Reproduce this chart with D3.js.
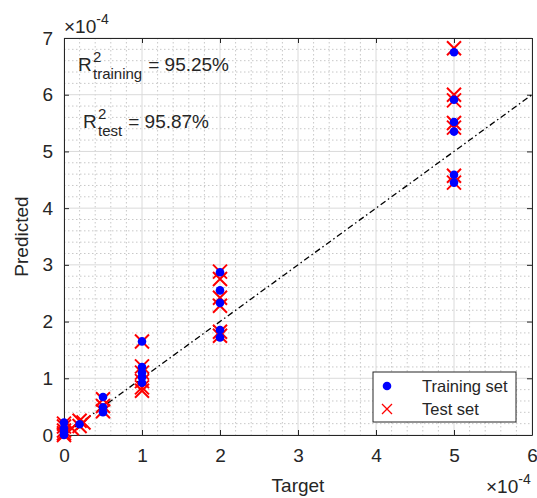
<!DOCTYPE html>
<html>
<head>
<meta charset="utf-8">
<script src="https://cdn.jsdelivr.net/npm/d3@7"></script>
<style>
  html, body { margin: 0; padding: 0; background: #fff; }
  svg { display: block; font-family: "Liberation Sans", Arial, sans-serif; }
</style>
</head>
<body>
<svg id="chart" width="537" height="498"></svg>
<script>
// values are in units of 1e-4
const xTicks = [0, 1, 2, 3, 4, 5, 6];
const yTicks = [0, 1, 2, 3, 4, 5, 6, 7];

const trainX = [0, 0, 0, 0, 0.2, 0.5, 0.5, 0.5, 1, 1, 1, 1, 1, 2, 2, 2, 2, 2, 5, 5, 5, 5, 5, 5];
const trainY = [0.22, 0.12, 0.05, 0.0, 0.19, 0.67, 0.49, 0.40, 1.65, 1.20, 1.10, 1.02, 0.92, 2.87, 2.55, 2.33, 1.85, 1.72, 6.75, 5.91, 5.52, 5.35, 4.59, 4.45];

const testX = [0, 0, 0, 0, 0, 0.1, 0.2, 0.2, 0.25, 0.5, 0.5, 0.5, 1, 1, 1, 1, 1, 1, 2, 2, 2, 2, 2, 2, 5, 5, 5, 5, 5, 5, 5];
const testY = [0.20, 0.15, 0.08, 0.03, 0.0, 0.12, 0.25, 0.16, 0.22, 0.63, 0.51, 0.42, 1.65, 1.21, 1.10, 0.95, 0.84, 0.78, 2.88, 2.75, 2.42, 2.28, 1.82, 1.75, 6.82, 6.00, 5.90, 5.50, 5.42, 4.57, 4.45];

const r2Train = '95.25%';
const r2Test = '95.87%';

const svg = d3.select('#chart');
const m = { left: 64, right: 532, top: 38, bottom: 435 };
const x = d3.scaleLinear().domain([0, 6]).range([m.left, m.right]);
const y = d3.scaleLinear().domain([0, 7]).range([m.bottom, m.top]);
const txt = '#262626';
const fs = '19px';

// grid
const minorX = d3.range(0, 6.001, 0.2).filter((v) => Math.abs(v - Math.round(v)) > 1e-6);
const minorY = d3.range(0, 7.001, 0.2).filter((v) => Math.abs(v - Math.round(v)) > 1e-6);
const grid = svg.append('g');
grid.selectAll('line.mx').data(minorX).enter().append('line')
	.attr('x1', (d) => x(d)).attr('x2', (d) => x(d)).attr('y1', m.top).attr('y2', m.bottom)
	.style('stroke', '#c8c8c8').style('stroke-dasharray', '1.5,2.5');
grid.selectAll('line.my').data(minorY).enter().append('line')
	.attr('y1', (d) => y(d)).attr('y2', (d) => y(d)).attr('x1', m.left).attr('x2', m.right)
	.style('stroke', '#c8c8c8').style('stroke-dasharray', '1.5,2.5');
grid.selectAll('line.gx').data(xTicks).enter().append('line')
	.attr('x1', (d) => x(d)).attr('x2', (d) => x(d)).attr('y1', m.top).attr('y2', m.bottom)
	.style('stroke', '#dadada');
grid.selectAll('line.gy').data(yTicks).enter().append('line')
	.attr('y1', (d) => y(d)).attr('y2', (d) => y(d)).attr('x1', m.left).attr('x2', m.right)
	.style('stroke', '#dadada');

// axes (ticks inward, box on)
const fmt = d3.format('d');
const axB = svg.append('g').attr('transform', `translate(0,${m.bottom})`)
	.call(d3.axisBottom(x).tickValues(xTicks).tickFormat(fmt).tickSizeInner(-5).tickSizeOuter(0).tickPadding(14));
const axT = svg.append('g').attr('transform', `translate(0,${m.top})`)
	.call(d3.axisTop(x).tickValues(xTicks).tickFormat('').tickSizeInner(-5).tickSizeOuter(0));
const axL = svg.append('g').attr('transform', `translate(${m.left},0)`)
	.call(d3.axisLeft(y).tickValues(yTicks).tickFormat(fmt).tickSizeInner(-5).tickSizeOuter(0).tickPadding(11));
const axR = svg.append('g').attr('transform', `translate(${m.right},0)`)
	.call(d3.axisRight(y).tickValues(yTicks).tickFormat('').tickSizeInner(-5).tickSizeOuter(0));
[axB, axT, axL, axR].forEach((a) => {
	a.select('.domain').style('stroke', txt);
	a.selectAll('.tick line').style('stroke', txt);
	a.selectAll('text').style('font-size', fs).style('fill', txt).style('font-family', '"Liberation Sans", Arial, sans-serif');
});

// 1:1 reference line
svg.append('line')
	.attr('x1', x(0)).attr('y1', y(0)).attr('x2', x(6)).attr('y2', y(6))
	.style('stroke', '#000').style('stroke-width', 1.3).style('stroke-dasharray', '6,3,1.5,3');

// test set (red crosses)
const cs = 7;
const testG = svg.append('g');
testX.forEach((tx, i) => {
	const cx = x(tx), cy = y(testY[i]);
	testG.append('path')
		.attr('d', `M${cx - cs},${cy - cs}L${cx + cs},${cy + cs}M${cx - cs},${cy + cs}L${cx + cs},${cy - cs}`)
		.style('stroke', '#ff0000').style('stroke-width', 2).style('fill', 'none');
});

// training set (blue dots)
svg.append('g').selectAll('circle').data(trainX).enter().append('circle')
	.attr('cx', (d) => x(d)).attr('cy', (d, i) => y(trainY[i])).attr('r', 4.3)
	.style('fill', '#0000ff');

// exponent labels
function exponent(xp, yp) {
	const t = svg.append('text').attr('x', xp).attr('y', yp).style('fill', txt).style('font-size', fs);
	t.append('tspan').text('\u00d710');
	t.append('tspan').attr('dy', -9).style('font-size', '14px').text('-4');
}
exponent(64, 33);
exponent(486, 493);

// R^2 annotations
function r2(xp, yp, sub, val) {
	svg.append('text').attr('x', xp).attr('y', yp).style('fill', txt).style('font-size', fs).text('R');
	const rw = 14;
	svg.append('text').attr('x', xp + rw + 1).attr('y', yp - 9).style('fill', txt).style('font-size', '15px').text('2');
	const s = svg.append('text').attr('x', xp + rw + 1).attr('y', yp + 8).style('fill', txt).style('font-size', '15px').text(sub);
	const sw = s.node().getComputedTextLength();
	svg.append('text').attr('x', xp + rw + 1 + sw + 6).attr('y', yp).style('fill', txt).style('font-size', fs).text('= ' + val);
}
r2(78, 71, 'training', r2Train);
r2(83, 128, 'test', r2Test);

// axis titles
svg.append('text').attr('x', (m.left + m.right) / 2).attr('y', 492).attr('text-anchor', 'middle')
	.style('fill', txt).style('font-size', fs).text('Target');
svg.append('text').attr('transform', `translate(28,${(m.top + m.bottom) / 2}) rotate(-90)`).attr('text-anchor', 'middle')
	.style('fill', txt).style('font-size', fs).text('Predicted');

// legend
const lg = svg.append('g');
lg.append('rect').attr('x', 373).attr('y', 372).attr('width', 143).attr('height', 50)
	.style('fill', '#fff').style('stroke', txt);
lg.append('circle').attr('cx', 387).attr('cy', 386).attr('r', 4.3).style('fill', '#0000ff');
const ls = 5;
lg.append('path').attr('d', `M${387 - ls},${409 - ls}L${387 + ls},${409 + ls}M${387 - ls},${409 + ls}L${387 + ls},${409 - ls}`)
	.style('stroke', '#ff0000').style('stroke-width', 1.3);
lg.append('text').attr('x', 422).attr('y', 392).style('fill', txt).style('font-size', '16.5px').text('Training set');
lg.append('text').attr('x', 422).attr('y', 415).style('fill', txt).style('font-size', '16.5px').text('Test set');
</script>
</body>
</html>
